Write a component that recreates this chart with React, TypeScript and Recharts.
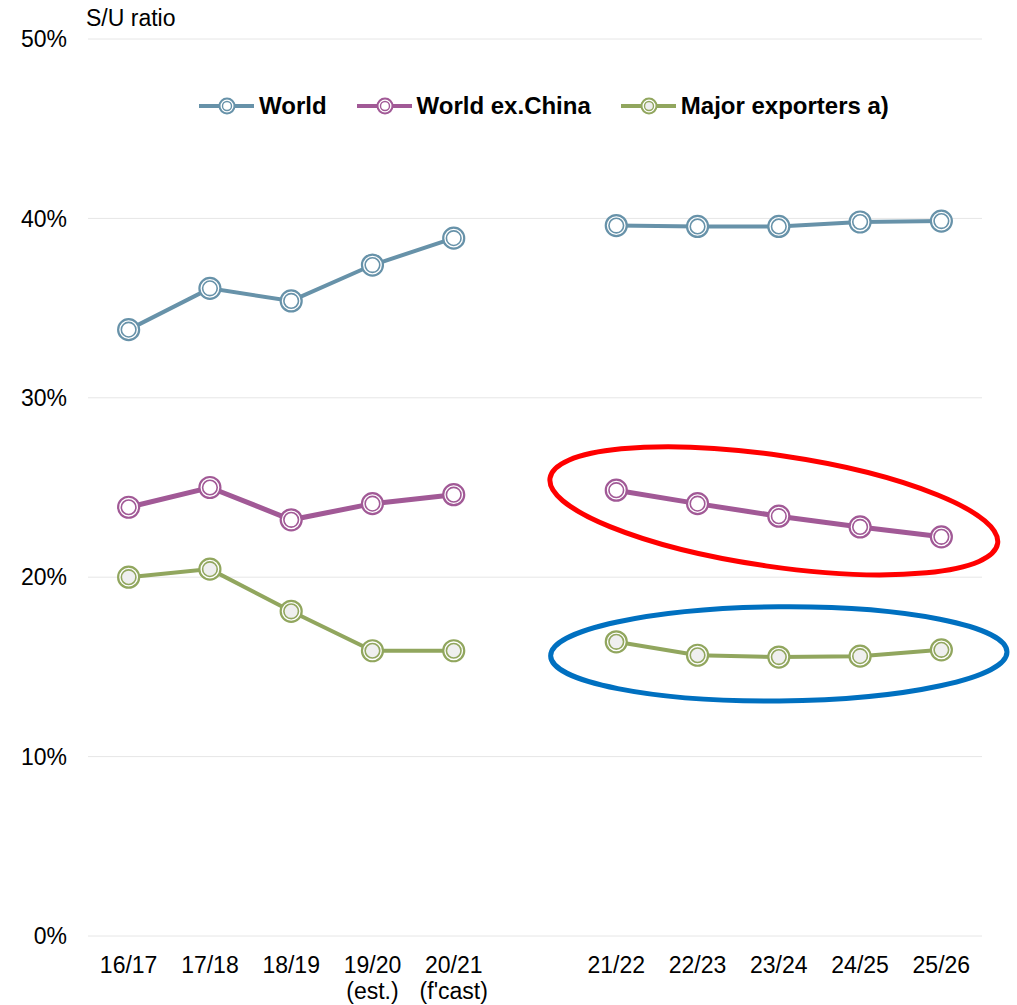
import { LineChart, Line, XAxis, YAxis, CartesianGrid, Legend, ReferenceArea } from 'recharts';

const categories = ['16/17', '17/18', '18/19', '19/20', '20/21', '', '21/22', '22/23', '23/24', '24/25', '25/26'];
const subLabels = ['', '', '', '(est.)', "(f'cast)", '', '', '', '', '', ''];
const world = [33.8, 36.1, 35.4, 37.4, 38.9, null, 39.6, 39.55, 39.55, 39.8, 39.85];
const worldExChina = [23.9, 25.0, 23.2, 24.1, 24.6, null, 24.85, 24.1, 23.4, 22.8, 22.25];
const majorExporters = [20.0, 20.45, 18.1, 15.9, 15.9, null, 16.4, 15.65, 15.55, 15.6, 15.95];
const yTicks = [0, 10, 20, 30, 40, 50];

const series = [
  { key: 'world', name: 'World', color: '#6792a9', width: 4, inner: '#ffffff' },
  { key: 'exChina', name: 'World ex.China', color: '#a15996', width: 5, inner: '#ffffff' },
  { key: 'major', name: 'Major exporters a)', color: '#91a65e', width: 4, inner: '#efefef' },
];

const data = categories.map((c, i) => ({
  cat: c,
  world: world[i],
  exChina: worldExChina[i],
  major: majorExporters[i],
}));

const FONT = '"Liberation Sans", Arial, sans-serif';

// double-ring marker used for every point
function ringDot(color: string, inner: string) {
  return (props: any) => {
    const { cx, cy, index } = props;
    if (cx == null || cy == null || props.value == null) return <g key={index} />;
    return (
      <g key={index}>
        <circle cx={cx} cy={cy} r={10.5} fill="#fff" stroke={color} strokeWidth={2.2} />
        <circle cx={cx} cy={cy} r={7.3} fill={inner} stroke={color} strokeWidth={1.6} />
      </g>
    );
  };
}

function XTick(props: any) {
  const { x, y, payload, index } = props;
  const sub = subLabels[index] ?? '';
  return (
    <g>
      <text x={x} y={y + 37} textAnchor="middle" fontSize={23} fill="#000" fontFamily={FONT}>
        {payload.value}
      </text>
      {sub && (
        <text x={x} y={y + 63} textAnchor="middle" fontSize={23} fill="#000" fontFamily={FONT}>
          {sub}
        </text>
      )}
    </g>
  );
}

// annotation ellipse around a ReferenceArea box
function ellipseShape(color: string, pad: number, angle: number, dx: number) {
  return (props: any) => {
    const { x, y, width, height } = props;
    const cx = x + width / 2 + dx;
    const cy = y + height / 2;
    return (
      <ellipse
        cx={cx}
        cy={cy}
        rx={width / 2 + pad}
        ry={height / 2}
        fill="none"
        stroke={color}
        strokeWidth={5}
        transform={`rotate(${angle} ${cx} ${cy})`}
      />
    );
  };
}

function LegendContent() {
  return (
    <div style={{ display: 'flex', alignItems: 'center', paddingLeft: 199, fontFamily: FONT }}>
      {series.map((s) => (
        <div key={s.key} style={{ display: 'flex', alignItems: 'center', marginRight: 30 }}>
          <svg width={55} height={22} style={{ display: 'block' }}>
            <line x1={0} y1={11} x2={55} y2={11} stroke={s.color} strokeWidth={4} />
            <circle cx={28} cy={11} r={7.5} fill="#fff" stroke={s.color} strokeWidth={2} />
            <circle cx={28} cy={11} r={4.5} fill={s.inner} stroke={s.color} strokeWidth={1.4} />
          </svg>
          <span style={{ marginLeft: 5, fontSize: 24, fontWeight: 'bold', color: '#000' }}>{s.name}</span>
        </div>
      ))}
    </div>
  );
}

export default function App() {
  return (
    <div style={{ position: 'absolute', left: 0, top: 0, width: 1017, height: 1005, background: '#fff', fontFamily: FONT }}>
      <div style={{ position: 'absolute', left: 86, top: 5, fontSize: 23, color: '#000' }}>S/U ratio</div>
      <LineChart width={1017} height={1005} data={data} margin={{ top: 39, right: 35, left: 0, bottom: 9 }}>
        <CartesianGrid horizontal vertical={false} stroke="#e6e6e6" strokeWidth={1} />
        <XAxis
          dataKey="cat"
          scale="band"
          axisLine={false}
          tickLine={false}
          tickSize={0}
          tickMargin={0}
          interval={0}
          height={60}
          tick={<XTick />}
        />
        <YAxis
          domain={[0, 50]}
          ticks={yTicks}
          width={88}
          axisLine={false}
          tickLine={false}
          tickSize={0}
          tickMargin={21}
          tickFormatter={(v: number) => `${v}%`}
          tick={{ fontSize: 23, fill: '#000', fontFamily: FONT }}
        />
        <Legend
          layout="horizontal"
          verticalAlign="middle"
          align="center"
          wrapperStyle={{ top: 92, left: 0, width: 1017 }}
          content={<LegendContent />}
        />
        <ReferenceArea
          x1="21/22"
          x2="25/26"
          y1={20.6}
          y2={26.8}
          ifOverflow="visible"
          shape={ellipseShape('#ff0000', 23, 8.3, -5)}
        />
        <ReferenceArea
          x1="21/22"
          x2="25/26"
          y1={13.1}
          y2={18.35}
          ifOverflow="visible"
          shape={ellipseShape('#0070c0', 25, -0.5, 0)}
        />
        {series.map((s) => (
          <Line
            key={s.key}
            dataKey={s.key}
            name={s.name}
            stroke={s.color}
            strokeWidth={s.width}
            connectNulls={false}
            dot={ringDot(s.color, s.inner)}
            activeDot={false}
            isAnimationActive={false}
          />
        ))}
      </LineChart>
    </div>
  );
}
